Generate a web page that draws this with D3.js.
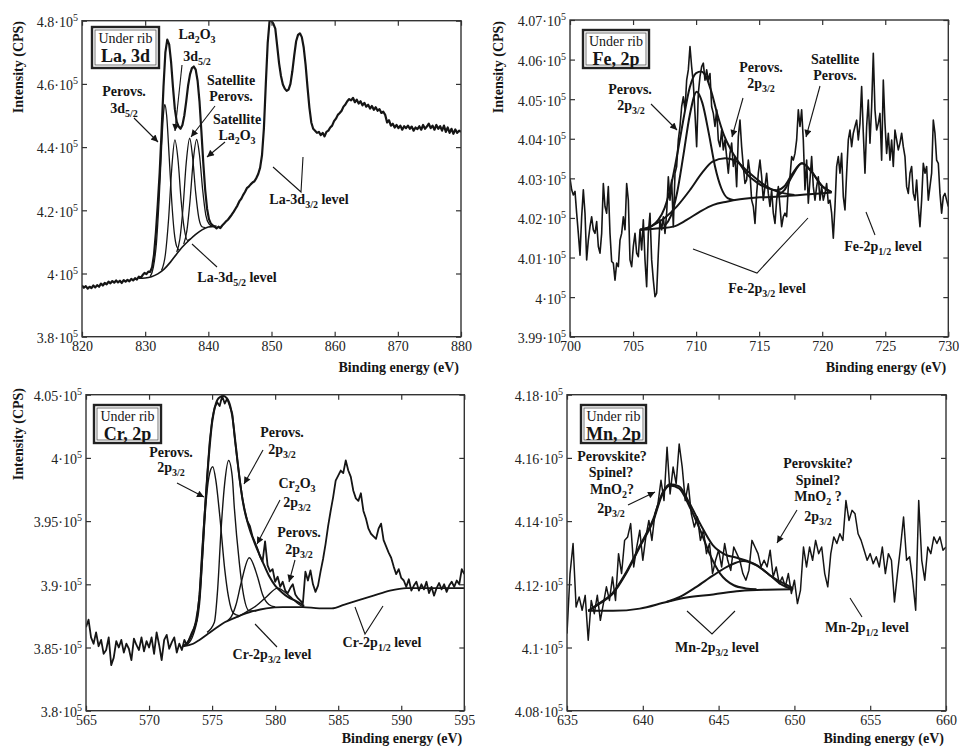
<!DOCTYPE html>
<html>
<head>
<meta charset="utf-8">
<script src="https://cdn.jsdelivr.net/npm/d3@7"></script>
<style>
  body { margin: 0; background: #fff; }
  svg, svg text { font-family: "Liberation Serif", "Times New Roman", serif; }
</style>
</head>
<body>
<svg id="chart" width="959" height="748"></svg>
<script>
// ---- La 3d (intensity in 10^5 CPS, energy grid 820..880 eV, step 0.3)
const laStart = 820, laStep = 0.3;
const laSpectrum = [
  3.962, 3.955, 3.960, 3.952, 3.958, 3.954, 3.962, 3.956, 3.963, 3.958,
  3.968, 3.962, 3.970, 3.966, 3.974, 3.969, 3.976, 3.971, 3.978, 3.972,
  3.977, 3.970, 3.979, 3.974, 3.980, 3.975, 3.983, 3.978, 3.985, 3.981,
  3.990, 3.986, 3.995, 4.002, 3.998, 4.006, 4.005, 4.020, 4.060, 4.130,
  4.220, 4.320, 4.450, 4.590, 4.700, 4.740, 4.725, 4.670, 4.590, 4.520,
  4.480, 4.465, 4.458, 4.470, 4.500, 4.545, 4.595, 4.630, 4.650, 4.655,
  4.645, 4.610, 4.545, 4.450, 4.350, 4.265, 4.205, 4.172, 4.158, 4.152,
  4.148, 4.143, 4.148, 4.144, 4.152, 4.158, 4.165, 4.170, 4.178, 4.186,
  4.195, 4.205, 4.215, 4.228, 4.236, 4.248, 4.258, 4.270, 4.275, 4.282,
  4.288, 4.292, 4.302, 4.315, 4.335, 4.375, 4.460, 4.600, 4.730, 4.800,
  4.800, 4.790, 4.775, 4.720, 4.665, 4.625, 4.598, 4.585, 4.578, 4.582,
  4.600, 4.640, 4.690, 4.735, 4.755, 4.760, 4.748, 4.715, 4.660, 4.590,
  4.525, 4.478, 4.458, 4.452, 4.445, 4.448, 4.438, 4.445, 4.434, 4.448,
  4.452, 4.462, 4.468, 4.482, 4.490, 4.502, 4.508, 4.515, 4.528, 4.535,
  4.545, 4.552, 4.548, 4.556, 4.542, 4.550, 4.538, 4.545, 4.532, 4.540,
  4.528, 4.534, 4.522, 4.530, 4.518, 4.526, 4.515, 4.520, 4.508, 4.512,
  4.502, 4.478, 4.485, 4.468, 4.474, 4.462, 4.470, 4.460, 4.468, 4.455,
  4.466, 4.460, 4.468, 4.458, 4.465, 4.452, 4.462, 4.457, 4.466, 4.455,
  4.470, 4.458, 4.465, 4.474, 4.460, 4.468, 4.455, 4.470, 4.458, 4.466,
  4.452, 4.468, 4.448, 4.462, 4.445, 4.458, 4.442, 4.456, 4.445, 4.452,
  4.448
];
const laBackground = [[829, 3.985], [830, 3.986], [831, 3.990], [832, 3.999], [833, 4.014], [834, 4.036],
  [835, 4.062], [836, 4.086], [837, 4.106], [838, 4.124], [839, 4.138], [840, 4.147], [841.3, 4.150]];
const laPerovs = [[830.8, 3.990], [831.3, 4.020], [831.8, 4.100], [832.2, 4.230], [832.6, 4.400], [832.9, 4.505],
  [833.1, 4.535], [833.4, 4.500], [833.8, 4.370], [834.2, 4.230], [834.6, 4.130], [835.0, 4.085], [835.5, 4.072]];
const laOxide = [[832.6, 4.010], [833.2, 4.060], [833.7, 4.170], [834.2, 4.330], [834.7, 4.423], [835.2, 4.360],
  [835.7, 4.230], [836.2, 4.140], [836.7, 4.105], [837.2, 4.110]];
const laSatPerovs = [[835.0, 4.068], [835.5, 4.110], [836.0, 4.210], [836.5, 4.350], [837.05, 4.428], [837.5, 4.370],
  [838.0, 4.255], [838.5, 4.175], [839.0, 4.148], [839.5, 4.145]];
const laSatOxide = [[836.1, 4.093], [836.6, 4.135], [837.1, 4.230], [837.6, 4.355], [838.15, 4.424], [838.6, 4.375],
  [839.1, 4.265], [839.6, 4.185], [840.1, 4.157], [840.6, 4.150]];
const laTicksX = [820, 830, 840, 850, 860, 870, 880];
const laTicksY = [3.8, 4.0, 4.2, 4.4, 4.6, 4.8];

// ---- Fe 2p (energy grid 700..730 eV)
const feStart = 700, feStep = 30 / 227;
const feSpectrum = [
  4.0300, 4.0271, 4.0258, 4.0267, 4.0212, 4.0161, 4.0106, 4.0203, 4.0271, 4.0212,
  4.0094, 4.0144, 4.0178, 4.0203, 4.0170, 4.0161, 4.0191, 4.0128, 4.0111, 4.0161,
  4.0287, 4.0229, 4.0212, 4.0279, 4.0161, 4.0090, 4.0086, 4.0043, 4.0086, 4.0077,
  4.0144, 4.0161, 4.0203, 4.0170, 4.0287, 4.0245, 4.0094, 4.0077, 4.0128, 4.0161,
  4.0111, 4.0102, 4.0170, 4.0119, 4.0195, 4.0094, 4.0026, 4.0161, 4.0212, 4.0094,
  4.0043, 4.0001, 4.0010, 4.0111, 4.0195, 4.0170, 4.0203, 4.0161, 4.0212, 4.0304,
  4.0245, 4.0296, 4.0178, 4.0313, 4.0330, 4.0397, 4.0431, 4.0481, 4.0506, 4.0473,
  4.0548, 4.0574, 4.0633, 4.0582, 4.0540, 4.0464, 4.0380, 4.0515, 4.0557, 4.0582,
  4.0591, 4.0548, 4.0574, 4.0548, 4.0565, 4.0481, 4.0464, 4.0431, 4.0473, 4.0397,
  4.0380, 4.0422, 4.0372, 4.0397, 4.0355, 4.0313, 4.0363, 4.0389, 4.0330, 4.0355,
  4.0279, 4.0405, 4.0447, 4.0380, 4.0330, 4.0287, 4.0296, 4.0346, 4.0313, 4.0245,
  4.0229, 4.0186, 4.0262, 4.0313, 4.0346, 4.0304, 4.0245, 4.0279, 4.0313, 4.0262,
  4.0229, 4.0271, 4.0212, 4.0186, 4.0245, 4.0279, 4.0229, 4.0178, 4.0203, 4.0212,
  4.0203, 4.0279, 4.0304, 4.0355, 4.0346, 4.0363, 4.0397, 4.0473, 4.0431, 4.0473,
  4.0397, 4.0271, 4.0346, 4.0237, 4.0296, 4.0355, 4.0279, 4.0245, 4.0279, 4.0304,
  4.0245, 4.0279, 4.0245, 4.0262, 4.0287, 4.0237, 4.0245, 4.0212, 4.0149, 4.0229,
  4.0330, 4.0355, 4.0313, 4.0363, 4.0254, 4.0220, 4.0313, 4.0397, 4.0422, 4.0380,
  4.0414, 4.0431, 4.0447, 4.0397, 4.0439, 4.0532, 4.0414, 4.0313, 4.0431, 4.0498,
  4.0389, 4.0481, 4.0616, 4.0473, 4.0422, 4.0439, 4.0464, 4.0346, 4.0548, 4.0439,
  4.0363, 4.0414, 4.0346, 4.0397, 4.0330, 4.0422, 4.0397, 4.0372, 4.0389, 4.0414,
  4.0380, 4.0355, 4.0279, 4.0262, 4.0313, 4.0330, 4.0262, 4.0245, 4.0296, 4.0229,
  4.0178, 4.0245, 4.0338, 4.0313, 4.0330, 4.0245, 4.0279, 4.0313, 4.0447, 4.0414,
  4.0346, 4.0338, 4.0262, 4.0212, 4.0254, 4.0262, 4.0245, 4.0229
];
const feBackground = [[705.55, 4.0170], [707.14, 4.0174], [708.19, 4.0178], [709.25, 4.0195], [710.31, 4.0216],
  [711.37, 4.0233], [712.42, 4.0241], [713.48, 4.0247], [715.07, 4.0252], [716.65, 4.0254], [718.24, 4.0258],
  [719.83, 4.0262], [720.75, 4.0264]];
const fePerovsA = [[707.5, 4.0180], [708.0, 4.0205], [708.5, 4.0265], [709.0, 4.0360], [709.5, 4.0460], [710.05, 4.0519],
  [710.5, 4.0490], [711.0, 4.0415], [711.5, 4.0330], [712.0, 4.0275], [712.5, 4.0250], [713.0, 4.0245]];
const fePerovsB = [[705.55, 4.0170], [706.5, 4.0180], [707.5, 4.0200], [708.5, 4.0230], [709.5, 4.0270], [710.5, 4.0315],
  [711.3, 4.0342], [712.3, 4.0351], [713.2, 4.0343], [714.0, 4.0320], [715.0, 4.0293], [716.0, 4.0272],
  [717.0, 4.0262], [717.8, 4.0258]];
const feSatellite = [[716.4, 4.0256], [717.0, 4.0270], [717.6, 4.0305], [718.4, 4.0338], [719.2, 4.0315],
  [720.0, 4.0280], [720.75, 4.0265]];
const feEnvelope = [[705.55, 4.0170], [706.5, 4.0180], [707.0, 4.0195], [707.5, 4.0225], [708.0, 4.0280], [708.5, 4.0360],
  [709.0, 4.0450], [709.5, 4.0530], [710.0, 4.0566], [710.4, 4.0570], [710.8, 4.0556], [711.2, 4.0520],
  [711.7, 4.0460], [712.2, 4.0410], [712.8, 4.0370], [713.4, 4.0340], [714.0, 4.0312], [714.8, 4.0290],
  [715.6, 4.0276], [716.4, 4.0270], [717.0, 4.0280], [717.6, 4.0310], [718.4, 4.0338], [719.2, 4.0315],
  [720.0, 4.0280], [720.75, 4.0265]];
const feTicksX = [700, 705, 710, 715, 720, 725, 730];
const feTicksY = [3.99, 4.00, 4.01, 4.02, 4.03, 4.04, 4.05, 4.06, 4.07];

// ---- Cr 2p (energy grid 565..595 eV, step 0.2)
const crStart = 565, crStep = 0.2;
const crSpectrum = [
  3.866, 3.872, 3.858, 3.853, 3.862, 3.851, 3.856, 3.845, 3.848, 3.858,
  3.836, 3.842, 3.855, 3.850, 3.856, 3.846, 3.853, 3.849, 3.840, 3.857,
  3.852, 3.848, 3.858, 3.847, 3.855, 3.850, 3.858, 3.845, 3.862, 3.852,
  3.840, 3.856, 3.860, 3.849, 3.854, 3.858, 3.846, 3.853, 3.848, 3.856,
  3.852, 3.857, 3.862, 3.866, 3.872, 3.892, 3.925, 3.955, 3.985, 4.012,
  4.030, 4.040, 4.044, 4.041, 4.049, 4.043, 4.047, 4.041, 4.035, 4.015,
  3.998, 3.982, 3.968, 3.958, 3.950, 3.946, 3.938, 3.933, 3.928, 3.922,
  3.918, 3.934, 3.915, 3.910, 3.912, 3.902, 3.906, 3.898, 3.902, 3.895,
  3.893, 3.897, 3.900, 3.892, 3.889, 3.887, 3.885, 3.910, 3.903, 3.911,
  3.900, 3.894, 3.899, 3.910, 3.920, 3.932, 3.946, 3.958, 3.969, 3.982,
  3.986, 3.990, 3.988, 3.998, 3.990, 3.985, 3.974, 3.968, 3.966, 3.972,
  3.958, 3.952, 3.944, 3.940, 3.938, 3.936, 3.944, 3.948, 3.935, 3.930,
  3.925, 3.921, 3.914, 3.908, 3.912, 3.905, 3.903, 3.898, 3.904, 3.895,
  3.899, 3.902, 3.895, 3.900, 3.896, 3.902, 3.893, 3.898, 3.891, 3.897,
  3.901, 3.896, 3.900, 3.894, 3.899, 3.902, 3.898, 3.903, 3.900, 3.912,
  3.908
];
const crBackground = [[572.7, 3.851], [573.5, 3.853], [574.0, 3.856], [574.7, 3.861], [575.4, 3.866], [576.0, 3.870],
  [576.7, 3.873], [577.4, 3.876], [578.0, 3.878], [579.3, 3.881], [580.6, 3.882], [582.2, 3.882], [583.5, 3.881],
  [584.5, 3.881], [585.5, 3.884], [586.5, 3.887], [587.8, 3.891], [589.1, 3.895], [590.4, 3.897], [592.0, 3.897],
  [595.0, 3.897]];
const crPerovsA = [[573.0, 3.852], [573.5, 3.860], [574.0, 3.884], [574.25, 3.922], [574.5, 3.962], [574.75, 3.985],
  [575.05, 3.993], [575.3, 3.982], [575.6, 3.955], [576.0, 3.912], [576.3, 3.890], [576.7, 3.877], [577.2, 3.875]];
const crPerovsB = [[574.6, 3.862], [575.18, 3.870], [575.44, 3.896], [575.71, 3.943], [576.0, 3.980], [576.31, 3.998],
  [576.6, 3.985], [576.76, 3.961], [577.16, 3.917], [577.42, 3.896], [577.95, 3.879], [578.5, 3.879]];
const crOxide = [[576.2, 3.871], [576.5, 3.874], [576.9, 3.884], [577.3, 3.901], [577.95, 3.921], [578.6, 3.906],
  [579.0, 3.892], [579.5, 3.884], [580.0, 3.882]];
const crPerovsC = [[577.0, 3.874], [577.7, 3.878], [578.5, 3.883], [579.3, 3.890], [580.2, 3.897], [581.1, 3.891],
  [581.9, 3.884], [582.3, 3.882]];
const crEnvelope = [[572.7, 3.851], [573.3, 3.858], [573.7, 3.870], [574.0, 3.890], [574.4, 3.953], [574.7, 3.996],
  [575.0, 4.028], [575.3, 4.043], [575.6, 4.048], [575.9, 4.049], [576.3, 4.045], [576.6, 4.033], [576.9, 4.008],
  [577.2, 3.982], [577.5, 3.962], [577.9, 3.946], [578.4, 3.932], [579.0, 3.918], [579.5, 3.907], [580.0, 3.899],
  [580.5, 3.894], [581.0, 3.890], [581.6, 3.887], [582.3, 3.883]];
const crTicksX = [565, 570, 575, 580, 585, 590, 595];
const crTicksY = [3.80, 3.85, 3.90, 3.95, 4.00, 4.05];

// ---- Mn 2p (energy grid 635..660 eV, step 0.2)
const mnStart = 635, mnStep = 0.2;
const mnSpectrum = [
  4.1044, 4.1234, 4.1329, 4.1128, 4.1160, 4.1118, 4.1165, 4.1023, 4.1149, 4.1107,
  4.1165, 4.1086, 4.1139, 4.1192, 4.1149, 4.1223, 4.1149, 4.1297, 4.1234, 4.1339,
  4.1350, 4.1392, 4.1255, 4.1318, 4.1371, 4.1276, 4.1350, 4.1402, 4.1339, 4.1423,
  4.1455, 4.1529, 4.1465, 4.1634, 4.1486, 4.1571, 4.1518, 4.1644, 4.1571, 4.1465,
  4.1518, 4.1423, 4.1381, 4.1413, 4.1339, 4.1371, 4.1297, 4.1329, 4.1234, 4.1276,
  4.1308, 4.1255, 4.1329, 4.1276, 4.1244, 4.1318, 4.1297, 4.1276, 4.1234, 4.1213,
  4.1244, 4.1339, 4.1318, 4.1297, 4.1255, 4.1276, 4.1255, 4.1308, 4.1223, 4.1255,
  4.1202, 4.1223, 4.1192, 4.1234, 4.1171, 4.1213, 4.1139, 4.1181, 4.1318, 4.1255,
  4.1318, 4.1276, 4.1339, 4.1297, 4.1318, 4.1234, 4.1192, 4.1297, 4.1350, 4.1329,
  4.1360, 4.1339, 4.1465, 4.1402, 4.1434, 4.1423, 4.1360, 4.1339, 4.1308, 4.1276,
  4.1297, 4.1265, 4.1287, 4.1255, 4.1318, 4.1234, 4.1297, 4.1276, 4.1144, 4.1234,
  4.1318, 4.1413, 4.1276, 4.1287, 4.1213, 4.1118, 4.1465, 4.1276, 4.1213, 4.1318,
  4.1297, 4.1350, 4.1329, 4.1350, 4.1308, 4.1318
];
const mnBackground = [[636.39, 4.1116], [638.04, 4.1116], [639.8, 4.1123], [641.56, 4.1144], [642.88, 4.1158],
  [644.64, 4.1168], [646.4, 4.1179], [648.16, 4.1183], [649.92, 4.1184]];
const mnMain = [[636.4, 4.1116], [637.2, 4.1140], [638.0, 4.1169], [638.9, 4.1234], [639.8, 4.1318], [640.7, 4.1402],
  [641.3, 4.1486], [641.8, 4.1513], [642.4, 4.1503], [643.1, 4.1444], [643.8, 4.1370], [644.4, 4.1297],
  [645.1, 4.1234], [646.0, 4.1197], [646.8, 4.1187], [647.5, 4.1184]];
const mnSecond = [[641.56, 4.1144], [642.44, 4.1160], [643.54, 4.1192], [644.64, 4.1228], [645.74, 4.1260],
  [646.62, 4.1274], [647.5, 4.1260], [648.4, 4.1228], [649.05, 4.1202], [649.92, 4.1184]];
const mnEnvelope = [[636.4, 4.1116], [637.2, 4.1142], [638.0, 4.1172], [638.9, 4.1238], [639.8, 4.1322], [640.7, 4.1408],
  [641.3, 4.1490], [641.8, 4.1517], [642.4, 4.1510], [643.1, 4.1455], [643.8, 4.1390], [644.6, 4.1325],
  [645.4, 4.1295], [646.2, 4.1284], [646.9, 4.1274], [647.6, 4.1258], [648.4, 4.1228], [649.2, 4.1205],
  [649.9, 4.1188]];
const mnTicksX = [635, 640, 645, 650, 655, 660];
const mnTicksY = [4.08, 4.10, 4.12, 4.14, 4.16, 4.18];

const grid = (start, step, values) => values.map((v, i) => [start + i * step, v]);

const FONT = '"Liberation Serif", "Times New Roman", serif';
const svg = d3.select('#chart').attr('font-family', FONT);
const INK = '#151515';

svg.append('defs').append('marker')
  .attr('id', 'arrow').attr('viewBox', '0 0 10 10')
  .attr('refX', 10).attr('refY', 5)
  .attr('markerWidth', 10).attr('markerHeight', 7)
  .attr('markerUnits', 'userSpaceOnUse').attr('orient', 'auto')
  .append('path').attr('d', 'M0,0L10,5L0,10z').attr('fill', INK);

// text with _{...} subscripts
function richText(g, x, y, str, opts = {}) {
  const t = g.append('text').attr('x', x).attr('y', y)
    .attr('font-family', FONT)
    .attr('text-anchor', opts.anchor || 'middle')
    .attr('font-weight', opts.weight || 'bold')
    .attr('font-size', opts.size || 14).attr('fill', INK);
  const parts = str.split(/(_\{[^}]*\})/).filter(s => s.length);
  let low = false;
  parts.forEach(s => {
    const sub = s.startsWith('_{');
    const ts = t.append('tspan').text(sub ? s.slice(2, -1) : s);
    if (sub) { ts.attr('font-size', 10); if (!low) ts.attr('dy', 4); low = true; }
    else if (low) { ts.attr('dy', -4); low = false; }
  });
  return t;
}

const fmt = d3.format('~g');

function drawPanel(p) {
  const g = svg.append('g').attr('font-family', FONT);
  const x = d3.scaleLinear().domain(p.xDomain).range([p.left, p.right]);
  const y = d3.scaleLinear().domain(p.yDomain).range([p.bottom, p.top]);

  svg.select('defs').append('clipPath').attr('id', 'clip-' + p.id).append('rect')
    .attr('x', p.left).attr('y', p.top).attr('width', p.right - p.left).attr('height', p.bottom - p.top);

  const straight = d3.line().x(d => x(d[0])).y(d => y(d[1]));
  const smooth = d3.line().x(d => x(d[0])).y(d => y(d[1])).curve(d3.curveMonotoneX);

  const plot = g.append('g').attr('clip-path', `url(#clip-${p.id})`);
  p.series.forEach(s => {
    plot.append('path').datum(s.data)
      .attr('fill', 'none').attr('stroke', INK)
      .attr('stroke-width', s.width).attr('stroke-linejoin', 'round')
      .attr('d', s.smooth ? smooth : straight);
  });

  // inward ticks on four sides
  const tk = 5;
  const fixFont = a => a.attr('font-family', FONT).attr('font-size', 14).select('.domain').remove();
  g.append('g').attr('transform', `translate(0,${p.bottom})`)
    .call(d3.axisBottom(x).tickValues(p.xTicks).tickSizeInner(-tk).tickSizeOuter(0).tickPadding(4).tickFormat(d3.format('d')))
    .call(fixFont);
  g.append('g').attr('transform', `translate(0,${p.top})`)
    .call(d3.axisTop(x).tickValues(p.xTicks).tickSizeInner(-tk).tickSizeOuter(0).tickFormat(''))
    .call(fixFont);
  g.append('g').attr('transform', `translate(${p.left},0)`)
    .call(d3.axisLeft(y).tickValues(p.yTicks).tickSizeInner(-tk).tickSizeOuter(0).tickPadding(4))
    .call(fixFont)
    .call(a => a.selectAll('.tick text').text(null).attr('dy', '0.42em').each(function (d) {
      const t = d3.select(this);
      t.append('tspan').text(fmt(d) + '\u00b710');
      t.append('tspan').attr('dy', -6).attr('font-size', 10).text('5');
    }));
  g.append('g').attr('transform', `translate(${p.right},0)`)
    .call(d3.axisRight(y).tickValues(p.yTicks).tickSizeInner(-tk).tickSizeOuter(0).tickFormat(''))
    .call(fixFont);
  g.selectAll('.tick line').attr('stroke', '#333').attr('stroke-width', 1.2);
  g.selectAll('.tick text').attr('fill', '#222');

  g.append('rect').attr('x', p.left).attr('y', p.top)
    .attr('width', p.right - p.left).attr('height', p.bottom - p.top)
    .attr('fill', 'none').attr('stroke', '#333').attr('stroke-width', 1.4);

  g.append('text').attr('x', p.right - 2).attr('y', p.bottom + p.xTitleGap)
    .attr('text-anchor', 'end').attr('font-weight', 'bold').attr('font-size', 14).attr('fill', INK)
    .text('Binding energy (eV)');
  if (p.yTitle) {
    g.append('text').attr('transform', `translate(${p.yTitle[0]},${p.yTitle[1]}) rotate(-90)`)
      .attr('text-anchor', 'end').attr('font-weight', 'bold').attr('font-size', 14).attr('fill', INK)
      .text('Intensity (CPS)');
  }

  // "Under rib" legend box
  const b = p.legend;
  g.append('rect').attr('x', b.x).attr('y', b.y).attr('width', b.w).attr('height', b.h)
    .attr('fill', '#fff').attr('stroke', '#222').attr('stroke-width', 2.4);
  g.append('rect').attr('x', b.x + 3).attr('y', b.y + 3).attr('width', b.w - 6).attr('height', b.h - 6)
    .attr('fill', 'none').attr('stroke', '#555').attr('stroke-width', 0.8);
  g.append('text').attr('x', b.x + b.w / 2).attr('y', b.y + 16).attr('text-anchor', 'middle')
    .attr('font-size', 14).attr('fill', INK).text('Under rib');
  g.append('text').attr('x', b.x + b.w / 2).attr('y', b.y + 35).attr('text-anchor', 'middle')
    .attr('font-size', 18).attr('font-weight', 'bold').attr('fill', INK).text(p.element);

  p.labels.forEach(l => richText(g, l[0], l[1], l[2]));
  p.arrows.forEach(a => g.append('line').attr('x1', a[0]).attr('y1', a[1]).attr('x2', a[2]).attr('y2', a[3])
    .attr('stroke', INK).attr('stroke-width', 1.1).attr('marker-end', 'url(#arrow)'));
  p.pointers.forEach(pts => g.append('path').attr('d', d3.line()(pts))
    .attr('fill', 'none').attr('stroke', INK).attr('stroke-width', 1.1));
}

const panels = [
  {
    id: 'la', element: 'La, 3d', left: 82, right: 461, top: 20.7, bottom: 336.7, xTitleGap: 35,
    xDomain: [820, 880], yDomain: [3.8, 4.8], xTicks: laTicksX, yTicks: laTicksY,
    yTitle: [23, 21], legend: { x: 92, y: 27, w: 67, h: 41 },
    series: [
      { data: grid(laStart, laStep, laSpectrum), width: 2.2 },
      { data: laBackground, width: 1.6, smooth: true },
      { data: laPerovs, width: 1.3, smooth: true },
      { data: laOxide, width: 1.3, smooth: true },
      { data: laSatPerovs, width: 1.3, smooth: true },
      { data: laSatOxide, width: 1.3, smooth: true }
    ],
    labels: [
      [197, 39, 'La_{2}O_{3}'], [197, 61, '3d_{5/2}'],
      [124, 96, 'Perovs.'], [124, 113, '3d_{5/2}'],
      [231, 85, 'Satellite'], [231, 101, 'Perovs.'],
      [237, 124, 'Satellite'], [237, 140, 'La_{2}O_{3}'],
      [237, 282, 'La-3d_{5/2} level'], [309, 204, 'La-3d_{3/2} level']
    ],
    arrows: [[182, 65, 175, 131], [134, 118, 158, 142], [215, 106, 191, 137], [225, 142, 207, 157]],
    pointers: [[[192, 244], [217, 267]], [[273, 167], [301, 192], [303, 157]]]
  },
  {
    id: 'fe', element: 'Fe, 2p', left: 570, right: 948.3, top: 20, bottom: 336.7, xTitleGap: 35,
    xDomain: [700, 730], yDomain: [3.99, 4.07], xTicks: feTicksX, yTicks: feTicksY,
    yTitle: [503, 21], legend: { x: 583, y: 30, w: 66, h: 38 },
    series: [
      { data: grid(feStart, feStep, feSpectrum), width: 1.6 },
      { data: feBackground, width: 2, smooth: true },
      { data: fePerovsA, width: 2, smooth: true },
      { data: fePerovsB, width: 2, smooth: true },
      { data: feSatellite, width: 2, smooth: true },
      { data: feEnvelope, width: 2, smooth: true }
    ],
    labels: [
      [630, 94, 'Perovs.'], [631, 110, '2p_{3/2}'],
      [761, 72, 'Perovs.'], [761, 88, '2p_{3/2}'],
      [835, 64, 'Satellite'], [835, 80, 'Perovs.'],
      [767, 293, 'Fe-2p_{3/2} level'], [883, 251, 'Fe-2p_{1/2} level']
    ],
    arrows: [[651, 104, 677, 130], [743, 98, 732, 137], [820, 86, 806, 137]],
    pointers: [[[693, 249], [757, 273], [808, 218]], [[866, 212], [875, 235]]]
  },
  {
    id: 'cr', element: 'Cr, 2p', left: 86, right: 464.3, top: 394.7, bottom: 710.7, xTitleGap: 32,
    xDomain: [565, 595], yDomain: [3.8, 4.05], xTicks: crTicksX, yTicks: crTicksY,
    yTitle: [23, 388], legend: { x: 94, y: 405, w: 67, h: 38 },
    series: [
      { data: grid(crStart, crStep, crSpectrum), width: 1.8 },
      { data: crBackground, width: 1.8, smooth: true },
      { data: crPerovsA, width: 1.4, smooth: true },
      { data: crPerovsB, width: 1.4, smooth: true },
      { data: crOxide, width: 1.4, smooth: true },
      { data: crPerovsC, width: 1.4, smooth: true },
      { data: crEnvelope, width: 2, smooth: true }
    ],
    labels: [
      [171, 457, 'Perovs.'], [171, 472, '2p_{3/2}'],
      [282, 437, 'Perovs.'], [282, 454, '2p_{3/2}'],
      [297, 488, 'Cr_{2}O_{3}'], [297, 507, '2p_{3/2}'],
      [299, 537, 'Perovs.'], [299, 554, '2p_{3/2}'],
      [272, 659, 'Cr-2p_{3/2} level'], [382, 647, 'Cr-2p_{1/2} level']
    ],
    arrows: [[177, 483, 204, 497], [263, 450, 244, 484], [280, 500, 257, 544], [295, 560, 289, 582]],
    pointers: [[[255, 624], [277, 647]], [[355, 607], [365, 634], [383, 606]]]
  },
  {
    id: 'mn', element: 'Mn, 2p', left: 567, right: 946, top: 394.7, bottom: 710.7, xTitleGap: 32,
    xDomain: [635, 660], yDomain: [4.08, 4.18], xTicks: mnTicksX, yTicks: mnTicksY,
    yTitle: null, legend: { x: 581, y: 405, w: 65, h: 38 },
    series: [
      { data: grid(mnStart, mnStep, mnSpectrum), width: 1.5 },
      { data: mnBackground, width: 2, smooth: true },
      { data: mnMain, width: 2, smooth: true },
      { data: mnSecond, width: 2, smooth: true },
      { data: mnEnvelope, width: 2, smooth: true }
    ],
    labels: [
      [612, 461, 'Perovskite?'], [611, 477, 'Spinel?'], [612, 494, 'MnO_{2}?'], [611, 513, '2p_{3/2}'],
      [818, 468, 'Perovskite?'], [818, 485, 'Spinel?'], [818, 501, 'MnO_{2} ?'], [818, 521, '2p_{3/2}'],
      [717, 652, 'Mn-2p_{3/2} level'], [867, 632, 'Mn-2p_{1/2} level']
    ],
    arrows: [[628, 505, 655, 492], [797, 510, 777, 543]],
    pointers: [[[687, 611], [712, 634], [735, 611]], [[850, 598], [862, 617]]]
  }
];

panels.forEach(drawPanel);
</script>
</body>
</html>
